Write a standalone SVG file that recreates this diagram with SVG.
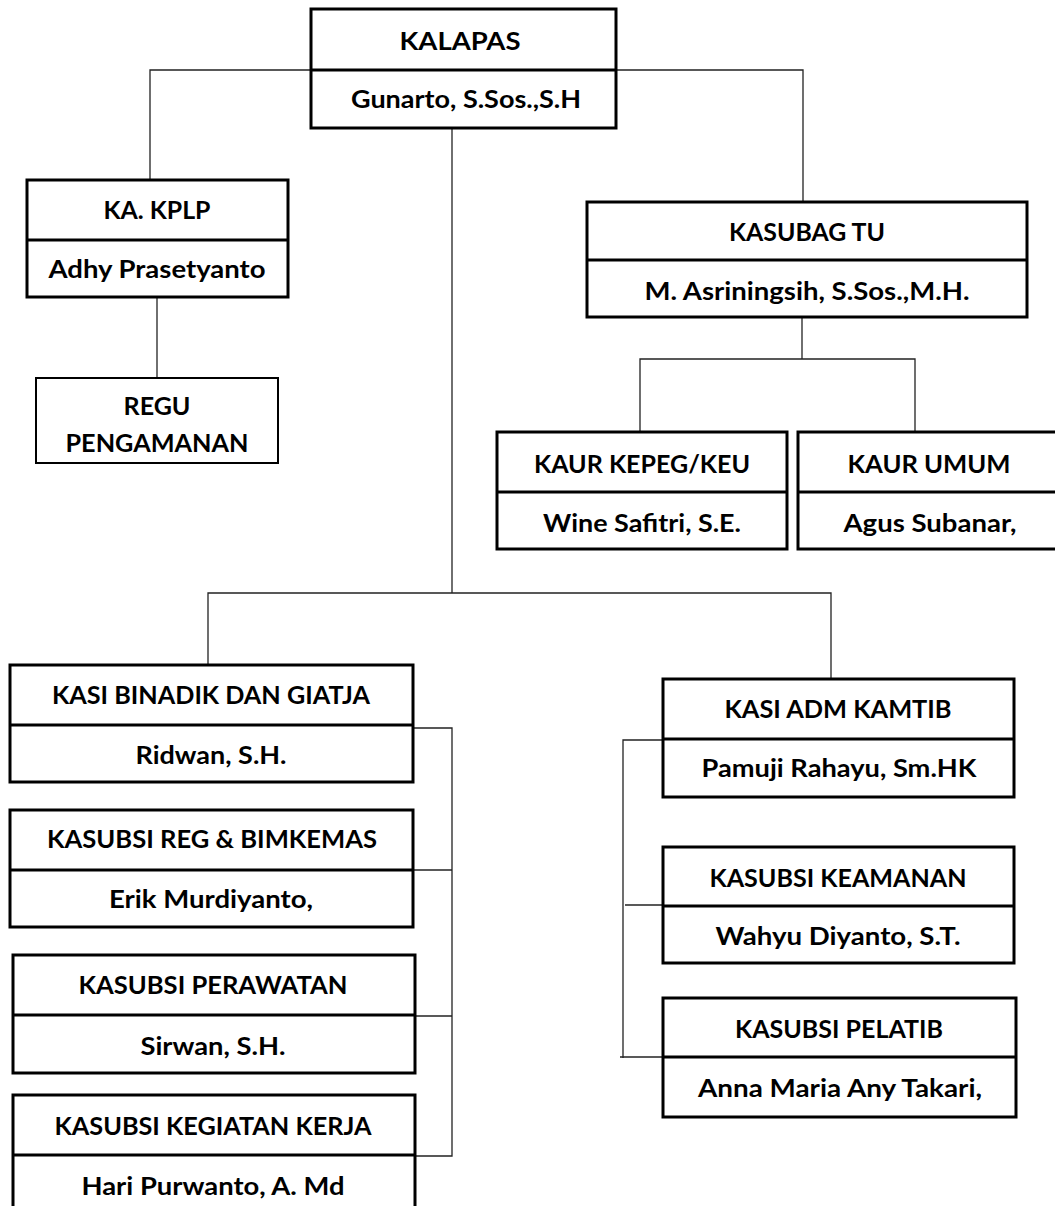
<svg xmlns="http://www.w3.org/2000/svg" width="1055" height="1206" viewBox="0 0 1055 1206">
<style>
.box{fill:#fff;stroke:#000;stroke-width:3}
.thin{fill:#fff;stroke:#000;stroke-width:2}
.div{stroke:#000;stroke-width:3}
.conn{fill:none;stroke:#222;stroke-width:1.3}
text{font-family:Lato,"Open Sans","Liberation Sans",sans-serif;font-weight:700;font-size:25px;fill:#000;text-anchor:middle}
</style>
<rect width="1055" height="1206" fill="#fff"/>
<g id="connectors">
<path class="conn" d="M150,180 V70 H803 V202"/>
<path class="conn" d="M452,128 V593"/>
<path class="conn" d="M208,665 V593 H831 V679"/>
<path class="conn" d="M157,297 V378"/>
<path class="conn" d="M802,317 V359"/>
<path class="conn" d="M640,432 V359 H915 V432"/>
<path class="conn" d="M413,728 H452 V1156 H415"/>
<path class="conn" d="M413,870 H452"/>
<path class="conn" d="M415,1016 H452"/>
<path class="conn" d="M663,740 H623 V1058"/>
<path class="conn" d="M625,905 H663"/>
<path class="conn" d="M620,1057 H663"/>
</g>
<g id="kalapas">
<rect class="box" x="311" y="9" width="305" height="119"/>
<line class="div" x1="311" y1="70" x2="616" y2="70"/>
<text x="460" y="50" textLength="121" lengthAdjust="spacingAndGlyphs">KALAPAS</text>
<text x="466" y="108" textLength="230" lengthAdjust="spacingAndGlyphs">Gunarto, S.Sos.,S.H</text>
</g>
<g id="ka-kplp">
<rect class="box" x="27" y="180" width="261" height="117"/>
<line class="div" x1="27" y1="240" x2="288" y2="240"/>
<text x="157" y="219" textLength="107" lengthAdjust="spacingAndGlyphs">KA. KPLP</text>
<text x="157" y="278" textLength="217" lengthAdjust="spacingAndGlyphs">Adhy Prasetyanto</text>
</g>
<g id="regu-pengamanan">
<rect class="thin" x="36" y="378" width="242" height="85"/>
<text x="157" y="415" textLength="67" lengthAdjust="spacingAndGlyphs">REGU</text>
<text x="157" y="452" textLength="183" lengthAdjust="spacingAndGlyphs">PENGAMANAN</text>
</g>
<g id="kasubag-tu">
<rect class="box" x="587" y="202" width="440" height="115"/>
<line class="div" x1="587" y1="260" x2="1027" y2="260"/>
<text x="807" y="241" textLength="156" lengthAdjust="spacingAndGlyphs">KASUBAG TU</text>
<text x="807" y="300" textLength="325" lengthAdjust="spacingAndGlyphs">M. Asriningsih, S.Sos.,M.H.</text>
</g>
<g id="kaur-kepeg">
<rect class="box" x="497" y="432" width="290" height="117"/>
<line class="div" x1="497" y1="492" x2="787" y2="492"/>
<text x="642" y="473" textLength="216" lengthAdjust="spacingAndGlyphs">KAUR KEPEG/KEU</text>
<text x="642" y="532" textLength="198" lengthAdjust="spacingAndGlyphs">Wine Safitri, S.E.</text>
</g>
<g id="kaur-umum">
<rect class="box" x="798" y="432" width="262" height="117"/>
<line class="div" x1="798" y1="492" x2="1060" y2="492"/>
<text x="929" y="473" textLength="163" lengthAdjust="spacingAndGlyphs">KAUR UMUM</text>
<text x="930" y="532" textLength="173" lengthAdjust="spacingAndGlyphs">Agus Subanar,</text>
</g>
<g id="kasi-binadik">
<rect class="box" x="10" y="665" width="403" height="117"/>
<line class="div" x1="10" y1="725" x2="413" y2="725"/>
<text x="211" y="704" textLength="318" lengthAdjust="spacingAndGlyphs">KASI BINADIK DAN GIATJA</text>
<text x="211" y="764" textLength="151" lengthAdjust="spacingAndGlyphs">Ridwan, S.H.</text>
</g>
<g id="kasubsi-reg">
<rect class="box" x="10" y="810" width="403" height="117"/>
<line class="div" x1="10" y1="870" x2="413" y2="870"/>
<text x="212" y="848" textLength="330" lengthAdjust="spacingAndGlyphs">KASUBSI REG &amp; BIMKEMAS</text>
<text x="211" y="908" textLength="204" lengthAdjust="spacingAndGlyphs">Erik Murdiyanto,</text>
</g>
<g id="kasubsi-perawatan">
<rect class="box" x="13" y="955" width="402" height="118"/>
<line class="div" x1="13" y1="1015" x2="415" y2="1015"/>
<text x="213" y="994" textLength="269" lengthAdjust="spacingAndGlyphs">KASUBSI PERAWATAN</text>
<text x="213" y="1055" textLength="145" lengthAdjust="spacingAndGlyphs">Sirwan, S.H.</text>
</g>
<g id="kasubsi-kegiatan">
<rect class="box" x="13" y="1095" width="402" height="122"/>
<line class="div" x1="13" y1="1155" x2="415" y2="1155"/>
<text x="213" y="1135" textLength="317" lengthAdjust="spacingAndGlyphs">KASUBSI KEGIATAN KERJA</text>
<text x="213" y="1195" textLength="263" lengthAdjust="spacingAndGlyphs">Hari Purwanto, A. Md</text>
</g>
<g id="kasi-adm-kamtib">
<rect class="box" x="663" y="679" width="351" height="118"/>
<line class="div" x1="663" y1="739" x2="1014" y2="739"/>
<text x="838" y="718" textLength="227" lengthAdjust="spacingAndGlyphs">KASI ADM KAMTIB</text>
<text x="839" y="777" textLength="275" lengthAdjust="spacingAndGlyphs">Pamuji Rahayu, Sm.HK</text>
</g>
<g id="kasubsi-keamanan">
<rect class="box" x="663" y="847" width="351" height="116"/>
<line class="div" x1="663" y1="906" x2="1014" y2="906"/>
<text x="838" y="887" textLength="257" lengthAdjust="spacingAndGlyphs">KASUBSI KEAMANAN</text>
<text x="838" y="945" textLength="245" lengthAdjust="spacingAndGlyphs">Wahyu Diyanto, S.T.</text>
</g>
<g id="kasubsi-pelatib">
<rect class="box" x="663" y="998" width="353" height="119"/>
<line class="div" x1="663" y1="1057" x2="1016" y2="1057"/>
<text x="839" y="1038" textLength="208" lengthAdjust="spacingAndGlyphs">KASUBSI PELATIB</text>
<text x="840" y="1097" textLength="284" lengthAdjust="spacingAndGlyphs">Anna Maria Any Takari,</text>
</g>
</svg>
